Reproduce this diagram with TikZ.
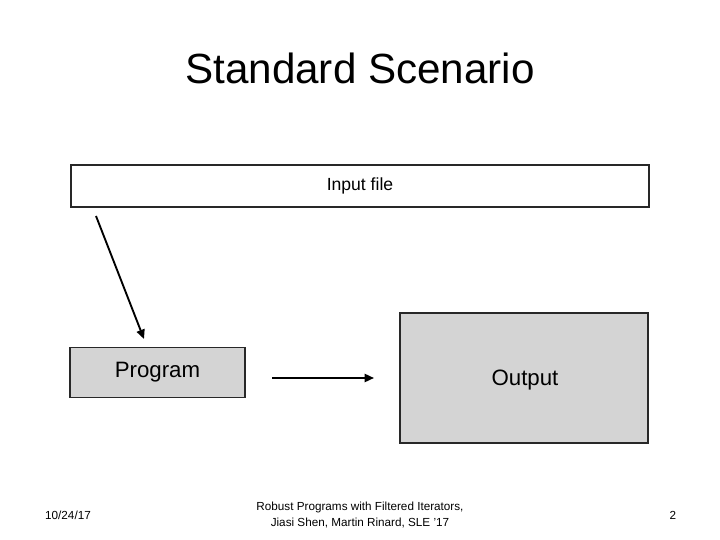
\documentclass[tikz,border=0pt]{standalone}
\usepackage{fontspec}
\setmainfont{Liberation Sans}
\definecolor{boxgray}{RGB}{212,212,212}
\definecolor{edgegray}{RGB}{40,40,40}
\usetikzlibrary{arrows.meta, positioning}

\tikzset{
  box/.style={draw=edgegray, line width=1.6pt, inner sep=0pt},
  flow/.style={-{Triangle[length=8pt,width=7pt]}, line width=1.6pt},
}

\begin{document}
\begin{tikzpicture}[x=0.03cm, y=-0.03cm]
  \useasboundingbox (0,0) rectangle (720,540);

  \node[font=\fontsize{36}{40}\selectfont] (title) at (360,68) {Standard Scenario};

  \node[box, fill=white, minimum width=578*0.03cm, minimum height=42*0.03cm,
        font=\fontsize{15}{18}\selectfont] (input) at (360,186) {Input file};
  \node[box, fill=boxgray, minimum width=175*0.03cm, minimum height=50*0.03cm,
        font=\fontsize{19}{22}\selectfont] (prog) at (157.5,372.5) {Program};
  \node[box, fill=boxgray, minimum width=248*0.03cm, minimum height=130*0.03cm] (out) at (524,378) {};
  \node[font=\fontsize{19}{22}\selectfont] (outlabel) at (525,380) {Output};

  \coordinate (a1) at (96,216);
  \coordinate (a2) at (144,339);
  \coordinate (b1) at (272,378);
  \coordinate (b2) at (374,378);
  \draw[flow] (a1) -- (a2);
  \draw[flow] (b1) -- (b2);

  % footer
  \node[font=\fontsize{10}{12}\selectfont] (date) at (68,515) {10/24/17};
  \node[font=\fontsize{10}{14}\selectfont, align=center] (cite) at (360,515)
    {Robust Programs with Filtered Iterators,\\Jiasi Shen, Martin Rinard, SLE '17};
  \node[font=\fontsize{10}{12}\selectfont] (page) at (673,515) {2};
\end{tikzpicture}
\end{document}
